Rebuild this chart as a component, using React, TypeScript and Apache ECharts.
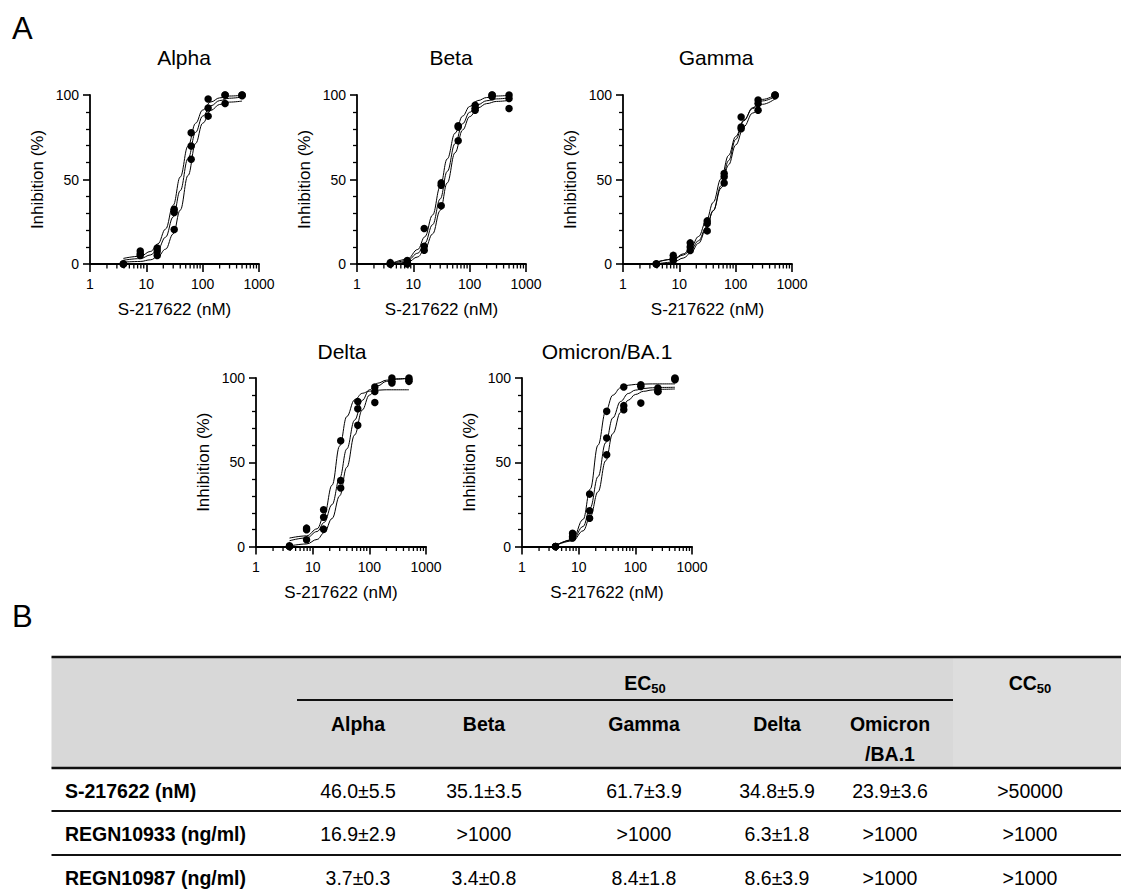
import React, { useEffect, useRef } from "react";
import * as echarts from "echarts";

// ---------------- Data ----------------
const panelTitles = ["Alpha", "Beta", "Gamma", "Delta", "Omicron/BA.1"];
const concentrations = [3.9, 7.8, 15.6, 31.25, 62.5, 125, 250, 500];

// measured replicate points (% inhibition), 3 replicates per variant
const alphaPoints = [
  [0, 7.7, 9.5, 32.4, 77.7, 97.6, 100, 100],
  [0, 6.1, 7.7, 30.5, 69.8, 92.3, 100, 99.6],
  [0, 5.0, 5.1, 20.4, 62.0, 87.5, 95.0, 100],
];
const betaPoints = [
  [0.8, 2.0, 21.0, 48.0, 81.8, 94.0, 100, 100],
  [0, 1.0, 10.5, 46.6, 81.0, 92.1, 100, 98.0],
  [0, 0, 8.1, 34.4, 72.9, 91.0, 99.0, 92.0],
];
const gammaPoints = [
  [0, 5.1, 12.5, 25.5, 53.6, 87.0, 97.0, 100],
  [0, 3.2, 10.0, 24.0, 51.6, 81.0, 95.0, 100],
  [0, 2.0, 8.0, 19.6, 48.0, 80.0, 91.0, 99.5],
];
const deltaPoints = [
  [0.4, 10.9, 21.8, 62.8, 86.1, 94.7, 100, 100],
  [0, 9.9, 17.4, 39.2, 81.8, 92.0, 98.0, 99.0],
  [0, 4.0, 10.3, 34.7, 71.9, 85.5, 97.0, 98.0],
];
const omicronPoints = [
  [0, 7.9, 31.1, 80.2, 94.7, 96.0, 94.0, 100],
  [0, 5.9, 21.2, 64.4, 83.6, 95.0, 92.0, 99.5],
  [0, 5.0, 16.8, 54.5, 81.2, 85.1, 92.0, 99.0],
];

// fitted curves at these concentrations
const curveX = [3.9, 7.8, 12, 16, 22, 30, 40, 55, 75, 100, 140, 200, 300, 500];
const alphaCurves = [
  [3.3, 4.6, 7.5, 11.9, 20.7, 34.8, 51.5, 69.8, 83.3, 91.1, 95.9, 98.3, 99.4, 99.8],
  [2.2, 3.2, 5.4, 8.8, 15.9, 27.9, 43.4, 62.4, 77.9, 87.5, 93.6, 96.7, 98.1, 98.8],
  [1.1, 1.5, 2.5, 4.4, 8.8, 17.8, 31.9, 52.4, 71.3, 83.3, 90.9, 94.4, 95.8, 96.4],
];
const betaCurves = [
  [0, 2.8, 8.6, 16.1, 29.0, 45.8, 62.2, 77.4, 87.5, 93.2, 96.7, 98.5, 99.4, 99.8],
  [0, 1.9, 6.4, 12.3, 23.3, 38.5, 54.8, 71.2, 83.0, 89.8, 94.3, 96.6, 97.7, 98.3],
  [0, 0.9, 4.2, 8.8, 17.8, 31.7, 48.0, 65.8, 79.3, 87.2, 92.4, 94.9, 96.2, 96.8],
];
const gammaCurves = [
  [0.9, 2.9, 6.1, 9.9, 16.3, 25.4, 36.5, 50.5, 64.3, 75.4, 85.2, 92.0, 96.5, 99.1],
  [0, 1.1, 3.6, 6.7, 12.3, 20.8, 31.5, 46.3, 61.2, 73.7, 84.8, 92.5, 97.4, 100],
  [1.2, 2.8, 5.4, 8.5, 13.8, 21.7, 31.6, 44.9, 58.7, 70.4, 81.3, 89.3, 94.5, 97.7],
];
const deltaCurves = [
  [5.0, 6.3, 10.5, 18.6, 36.4, 59.7, 77.1, 87.0, 90.9, 92.2, 92.8, 93.0, 93.0, 93.0],
  [3.4, 5.1, 8.9, 14.3, 24.9, 40.6, 57.9, 75.0, 86.7, 93.0, 96.9, 98.7, 99.5, 99.9],
  [0.3, 1.5, 4.2, 8.2, 16.6, 30.1, 47.0, 66.2, 81.0, 89.8, 95.3, 98.0, 99.3, 99.8],
];
const omicronCurves = [
  [0.4, 4.1, 16.1, 34.1, 60.2, 80.2, 89.8, 94.2, 95.7, 96.2, 96.4, 96.5, 96.5, 96.5],
  [0.6, 3.9, 11.9, 23.0, 41.5, 61.6, 76.3, 86.1, 90.8, 92.8, 93.8, 94.2, 94.4, 94.5],
  [0.6, 3.3, 9.3, 17.7, 32.5, 50.9, 67.0, 79.7, 86.8, 90.2, 92.1, 92.9, 93.3, 93.5],
];

const xTickLabels = ["1", "10", "100", "1000"];
const xMinorTicks = [2, 3, 4, 5, 6, 7, 8, 9, 20, 30, 40, 50, 60, 70, 80, 90, 200, 300, 400, 500, 600, 700, 800, 900];
const xAxisName = "S-217622 (nM)";
const yAxisName = "Inhibition (%)";

// table
const tableVariants = ["Alpha", "Beta", "Gamma", "Delta", "Omicron\n/BA.1"];
const tableCompounds = ["S-217622 (nM)", "REGN10933 (ng/ml)", "REGN10987 (ng/ml)"];
const ec50Values = [
  ["46.0±5.5", "35.1±3.5", "61.7±3.9", "34.8±5.9", "23.9±3.6"],
  ["16.9±2.9", ">1000", ">1000", "6.3±1.8", ">1000"],
  ["3.7±0.3", "3.4±0.8", "8.4±1.8", "8.6±3.9", ">1000"],
];
const cc50Values = [">50000", ">1000", ">1000"];

// ---------------- Layout ----------------
const FONT = "'Liberation Sans', Arial, Helvetica, sans-serif";
const TABLE_FS = 19.5;
const gridBoxes = [
  { left: 90, top: 95, width: 169, height: 169 },
  { left: 357, top: 95, width: 169, height: 169 },
  { left: 623, top: 95, width: 169, height: 169 },
  { left: 256, top: 378, width: 170, height: 168.5 },
  { left: 522, top: 378, width: 170, height: 168.5 },
];
const titlePos = [
  [184, 57],
  [451, 57],
  [716, 57],
  [342, 351],
  [607, 351],
];
const colX = [358, 484, 644, 777, 890];
const cc50X = 1030;
const rowY = [791, 834, 878];
const tableLeft = 51.5;
const tableRight = 1121;

export default function App() {
  const ref = useRef<HTMLDivElement>(null);

  useEffect(() => {
    if (!ref.current) return;
    const chart = echarts.init(ref.current, null, { renderer: "svg" });

    const allPoints = [alphaPoints, betaPoints, gammaPoints, deltaPoints, omicronPoints];
    const allCurves = [alphaCurves, betaCurves, gammaCurves, deltaCurves, omicronCurves];

    const grid: any[] = [];
    const xAxis: any[] = [];
    const yAxis: any[] = [];
    const series: any[] = [];

    gridBoxes.forEach((g, i) => {
      grid.push({ ...g, containLabel: false });
      xAxis.push({
        type: "log",
        logBase: 10,
        gridIndex: i,
        min: 1,
        max: 1000,
        name: xAxisName,
        nameLocation: "middle",
        nameGap: 37,
        nameTextStyle: { fontSize: 17, color: "#000", fontFamily: FONT },
        axisLine: { lineStyle: { color: "#000", width: 1.8 } },
        axisTick: { show: true, length: 8, lineStyle: { color: "#000", width: 1.6 } },
        axisLabel: {
          color: "#000",
          fontSize: 14,
          margin: 13,
          fontFamily: FONT,
          formatter: (v: number) => xTickLabels[Math.round(Math.log10(v))] ?? String(v),
        },
        splitLine: { show: false },
      });
      yAxis.push({
        type: "value",
        gridIndex: i,
        min: 0,
        max: 100,
        interval: 50,
        name: yAxisName,
        nameLocation: "middle",
        nameGap: 44,
        nameRotate: 90,
        nameTextStyle: { fontSize: 17, color: "#000", fontFamily: FONT },
        axisLine: { show: true, lineStyle: { color: "#000", width: 1.8 } },
        axisTick: { show: true, length: 7, lineStyle: { color: "#000", width: 1.6 } },
        minorTick: { show: true, splitNumber: 5, length: 4, lineStyle: { color: "#000", width: 1.3 } },
        minorSplitLine: { show: false },
        axisLabel: { color: "#000", fontSize: 14, margin: 11, fontFamily: FONT },
        splitLine: { show: false },
      });

      series.push({
        type: "custom",
        xAxisIndex: i,
        yAxisIndex: i,
        silent: true,
        clip: false,
        data: xMinorTicks.map((v) => [v, 0]),
        renderItem: (params: any, api: any) => {
          const p = api.coord([api.value(0), 0]);
          return {
            type: "line",
            shape: { x1: p[0], y1: p[1], x2: p[0], y2: p[1] + 4.5 },
            style: { stroke: "#000", lineWidth: 1.3 },
          };
        },
      });

      allCurves[i].forEach((curve) => {
        series.push({
          type: "line",
          xAxisIndex: i,
          yAxisIndex: i,
          smooth: 0.4,
          smoothMonotone: "x",
          showSymbol: false,
          symbol: "none",
          clip: false,
          silent: true,
          lineStyle: { color: "#000", width: 1 },
          data: curveX.map((x, j) => [x, curve[j]]),
          z: 2,
        });
      });

      series.push({
        type: "scatter",
        xAxisIndex: i,
        yAxisIndex: i,
        symbolSize: 7.5,
        clip: false,
        silent: true,
        itemStyle: { color: "#000", opacity: 1 },
        data: allPoints[i].flatMap((rep) => concentrations.map((c, j) => [c, rep[j]])),
        z: 3,
      });
    });

    const graphic: any[] = [];
    // panel letters
    graphic.push({ type: "text", left: 12, top: 13, style: { text: "A", fontSize: 31, fontFamily: FONT, fill: "#000" } });
    graphic.push({ type: "text", left: 12, top: 601, style: { text: "B", fontSize: 31, fontFamily: FONT, fill: "#000" } });
    // panel titles
    panelTitles.forEach((t, i) => {
      graphic.push({
        type: "text",
        x: titlePos[i][0],
        y: titlePos[i][1],
        style: { text: t, fontSize: 21, fontFamily: FONT, fill: "#000", align: "center", verticalAlign: "middle" },
      });
    });

    // table background
    graphic.push({ type: "rect", shape: { x: tableLeft, y: 657, width: 953 - tableLeft, height: 111 }, style: { fill: "#d8d8d8" } });
    graphic.push({ type: "rect", shape: { x: 953, y: 657, width: tableRight - 953, height: 111 }, style: { fill: "#dddddd" } });
    // table rules
    const hline = (y: number, x1: number, x2: number, w: number) => ({
      type: "line",
      shape: { x1, y1: y, x2, y2: y },
      style: { stroke: "#111", lineWidth: w },
    });
    graphic.push(hline(657, tableLeft, tableRight, 2.5));
    graphic.push(hline(700, 297, 953, 2));
    graphic.push(hline(768, tableLeft, tableRight, 2.5));
    graphic.push(hline(811, tableLeft, tableRight, 2));
    graphic.push(hline(855, tableLeft, tableRight, 2));

    // header texts
    const subRich = {
      a: { fontSize: TABLE_FS, fontWeight: "bold", fontFamily: FONT, fill: "#000", lineHeight: 24 },
      b: { fontSize: 13, fontWeight: "bold", fontFamily: FONT, fill: "#000", lineHeight: 15, verticalAlign: "bottom" },
    };
    graphic.push({
      type: "text",
      x: 645,
      y: 683,
      style: { text: "{a|EC}{b|50}", rich: subRich, align: "center", verticalAlign: "middle" },
    });
    graphic.push({
      type: "text",
      x: cc50X,
      y: 683,
      style: { text: "{a|CC}{b|50}", rich: subRich, align: "center", verticalAlign: "middle" },
    });
    tableVariants.forEach((v, i) => {
      const twoLine = v.indexOf("\n") >= 0;
      graphic.push({
        type: "text",
        x: colX[i],
        y: twoLine ? 739 : 724,
        style: {
          text: v,
          fontSize: TABLE_FS,
          fontWeight: "bold",
          fontFamily: FONT,
          fill: "#000",
          align: "center",
          verticalAlign: "middle",
          lineHeight: 30,
        },
      });
    });
    // body
    tableCompounds.forEach((c, r) => {
      graphic.push({
        type: "text",
        x: 65,
        y: rowY[r],
        style: { text: c, fontSize: TABLE_FS, fontWeight: "bold", fontFamily: FONT, fill: "#000", align: "left", verticalAlign: "middle" },
      });
      ec50Values[r].forEach((v, k) => {
        graphic.push({
          type: "text",
          x: colX[k],
          y: rowY[r],
          style: { text: v, fontSize: TABLE_FS, fontFamily: FONT, fill: "#000", align: "center", verticalAlign: "middle" },
        });
      });
      graphic.push({
        type: "text",
        x: cc50X,
        y: rowY[r],
        style: { text: cc50Values[r], fontSize: TABLE_FS, fontFamily: FONT, fill: "#000", align: "center", verticalAlign: "middle" },
      });
    });

    chart.setOption({
      animation: false,
      backgroundColor: "#fff",
      grid,
      xAxis,
      yAxis,
      series,
      graphic,
    });

    return () => chart.dispose();
  }, []);

  return <div ref={ref} style={{ position: "absolute", left: 0, top: 0, width: 1123, height: 891 }} />;
}
